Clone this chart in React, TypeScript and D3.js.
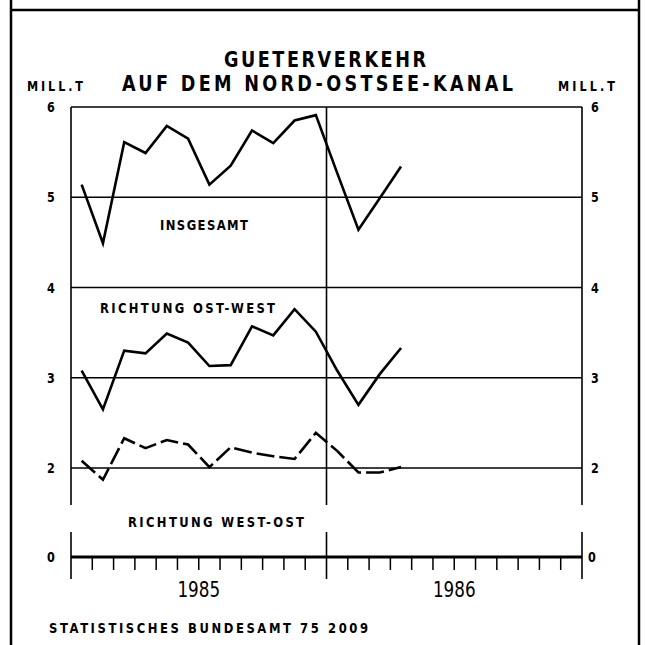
import * as d3 from 'd3';

// monthly values, Jan 1985 .. Apr 1986 (Mill. t)
const months = ['1985-01', '1985-02', '1985-03', '1985-04', '1985-05', '1985-06', '1985-07', '1985-08', '1985-09', '1985-10', '1985-11', '1985-12', '1986-01', '1986-02', '1986-03', '1986-04'];
const insgesamt = [5.14, 4.49, 5.61, 5.49, 5.79, 5.65, 5.14, 5.35, 5.74, 5.60, 5.85, 5.91, 5.27, 4.64, 4.99, 5.34];
const ostWest = [3.08, 2.65, 3.30, 3.27, 3.49, 3.39, 3.13, 3.14, 3.57, 3.47, 3.76, 3.51, 3.08, 2.70, 3.04, 3.33];
const westOst = [2.08, 1.87, 2.33, 2.22, 2.31, 2.26, 2.01, 2.23, 2.17, 2.13, 2.10, 2.39, 2.19, 1.95, 1.95, 2.01];
const years = ['1985', '1986'];
const yTicks = [6, 5, 4, 3, 2];

const FONT = '"DejaVu Sans", sans-serif';
const SX = 0.8; // narrow lettering like the stencil font

export default function App() {
  const width = 645, height = 645;
  const left = 71, right = 582;
  const x = d3.scaleLinear().domain([0, 24]).range([left, right]);
  const y = d3.scaleLinear().domain([2, 6]).range([468, 107]);
  const zeroY = 557;
  const plotBottom = 505;

  const line = d3.line<number>()
    .x((_, i) => x(i + 0.5))
    .y(d => y(d));

  const monthTicks = d3.range(0, 25);
  const yearBounds = [0, 12, 24];

  // narrow glyphs, spread out to the width measured in the picture
  const label = (txt: string, x0: number, x1: number, yb: number, size: number, weight = 'bold') => (
    <text transform={`translate(${x0},${yb}) scale(${SX},1)`} fontSize={size} fontWeight={weight}
      textLength={(x1 - x0) / SX} lengthAdjust="spacing">{txt}</text>
  );
  const num = (txt: string | number, cx: number, yb: number, size = 14) => (
    <text transform={`translate(${cx},${yb}) scale(${SX},1)`} fontSize={size} fontWeight="bold" textAnchor="middle">{txt}</text>
  );

  return (
    <svg width={width} height={height} style={{ position: 'absolute', left: 0, top: 0, background: '#fff' }} fontFamily={FONT}>
      {/* frame */}
      <line x1={11} x2={11} y1={0} y2={height} stroke="#000" strokeWidth={2.5} />
      <line x1={639} x2={639} y1={0} y2={height} stroke="#000" strokeWidth={2.5} />
      <line x1={11} x2={639} y1={10} y2={10} stroke="#000" strokeWidth={2.5} />

      {/* title */}
      {label('GUETERVERKEHR', 224, 426, 67, 22)}
      {label('AUF DEM NORD-OSTSEE-KANAL', 122, 513, 91, 22)}
      {label('MILL.T', 27, 83, 91, 14)}
      {label('MILL.T', 558, 615, 91, 14)}

      {/* gridlines */}
      {yTicks.map(t => (
        <g key={t}>
          <line x1={left} x2={right} y1={y(t)} y2={y(t)} stroke="#000" strokeWidth={1.6} />
          {num(t, 51, y(t) + 5)}
          {num(t, 595, y(t) + 5)}
        </g>
      ))}

      {/* vertical year boundaries, broken */}
      {yearBounds.map(m => (
        <g key={m}>
          <line x1={x(m)} x2={x(m)} y1={y(6)} y2={plotBottom} stroke="#000" strokeWidth={1.6} />
          <line x1={x(m)} x2={x(m)} y1={532} y2={579} stroke="#000" strokeWidth={1.6} />
        </g>
      ))}

      {/* zero axis */}
      <line x1={left} x2={right} y1={zeroY} y2={zeroY} stroke="#000" strokeWidth={3} />
      {monthTicks.filter(m => m % 12 !== 0).map(m => (
        <line key={m} x1={x(m)} x2={x(m)} y1={zeroY} y2={zeroY + 13} stroke="#000" strokeWidth={1.5} />
      ))}
      {num(0, 51, zeroY + 5)}
      {num(0, 592, zeroY + 5)}
      {years.map((yr, i) => (
        <text key={yr} transform={`translate(${x(i * 12 + 6)},597) scale(0.8,1)`} fontSize={21} textAnchor="middle">{yr}</text>
      ))}

      {/* series */}
      <path d={line(insgesamt) || ''} fill="none" stroke="#000" strokeWidth={2.6} strokeLinejoin="miter" />
      <path d={line(ostWest) || ''} fill="none" stroke="#000" strokeWidth={2.6} strokeLinejoin="miter" />
      <path d={line(westOst) || ''} fill="none" stroke="#000" strokeWidth={2.6} strokeDasharray="18 5" strokeLinejoin="miter" />

      {/* series labels */}
      {label('INSGESAMT', 160, 248, 230, 14.5)}
      {label('RICHTUNG OST-WEST', 100, 275, 313, 14.5)}
      {label('RICHTUNG WEST-OST', 128, 304, 527, 14.5)}

      {/* source */}
      {label('STATISTISCHES BUNDESAMT 75 2009', 49, 368, 633, 14.5)}
      <desc>{months.join(',')}</desc>
    </svg>
  );
}
